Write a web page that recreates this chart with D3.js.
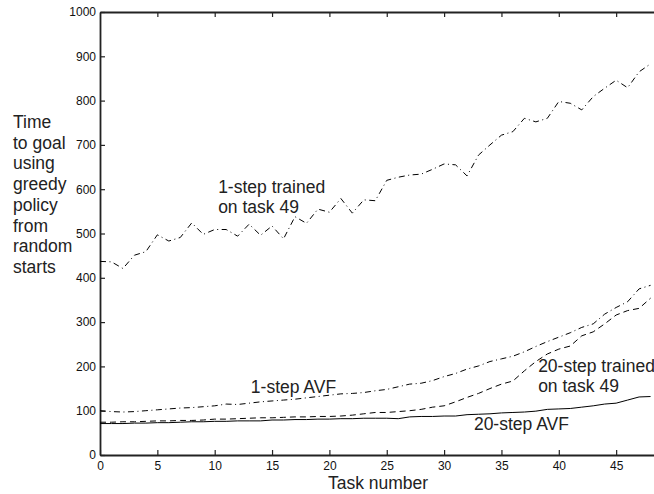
<!DOCTYPE html>
<html>
<head>
<meta charset="utf-8">
<script src="https://cdn.jsdelivr.net/npm/d3@7"></script>
<style>
  body { margin: 0; background: #fff; }
  svg { display: block; font-family: "Liberation Sans", Arial, Helvetica, sans-serif; }
  .axis path, .axis line { stroke: #222; }
  .axis text { font-size: 12px; fill: #111; }
  .lbl { font-size: 17.5px; fill: #222; }
</style>
</head>
<body>
<svg id="chart" width="654" height="494"></svg>
<script>
// task numbers 0..48
let tasks = d3.range(0, 49)

// values
let oneStepTrained = [437,436,421,451,459,497,483,491,524,498,509,509,494,521,496,517,488,538,523,555,
  548,579,546,576,574,620,627,632,634,645,657,655,630,677,700,722,730,760,752,760,
  798,794,779,809,828,846,829,865,883]
let oneStepAVF = [100,98,97,98,100,102,104,106,107,109,111,115,114,117,120,122,124,126,129,132,
  135,138,139,141,145,148,154,160,162,168,177,184,194,201,211,217,223,233,245,256,
  266,276,288,296,318,333,346,375,383]
let twentyStepTrained = [74,74,75,75,76,77,77,78,78,79,81,81,82,83,84,84,85,86,86,87,
  87,88,90,93,96,96,98,100,103,108,111,120,130,139,150,160,167,190,211,228,
  239,246,269,278,296,316,326,331,354]
let twentyStepAVF = [71,71,71,72,72,73,73,74,75,75,76,76,77,77,77,79,79,80,80,81,
  81,82,82,83,83,83,82,86,87,87,88,88,91,92,93,95,96,97,99,103,
  104,105,108,111,115,117,124,131,132]

let xTicks = [0,5,10,15,20,25,30,35,40,45]
let yTicks = [0,100,200,300,400,500,600,700,800,900,1000]
let yLabelLines = ['Time','to goal','using','greedy','policy','from','random','starts']

// annotations in data coordinates (task, value)
let notes = [
  {t: 10.3, v: 591, s: '1-step trained'},
  {t: 10.3, v: 546, s: 'on task 49'},
  {t: 13.15, v: 140, s: '1-step AVF'},
  {t: 38.2, v: 187, s: '20-step trained'},
  {t: 38.2, v: 142, s: 'on task 49'},
  {t: 32.6, v: 56, s: '20-step AVF'}
]

let svg = d3.select('#chart')

let x = d3.scaleLinear().domain([0, 48.3]).range([100, 654])
let y = d3.scaleLinear().domain([0, 1000]).range([455, 12])

// axes, MATLAB style ticks pointing inward
svg.append('g').attr('class', 'axis')
  .attr('transform', 'translate(0,' + y(0) + ')')
  .call(d3.axisBottom(x).tickValues(xTicks).tickSizeInner(-5).tickSizeOuter(0).tickPadding(6))

svg.append('g').attr('class', 'axis')
  .attr('transform', 'translate(0,' + y(1000) + ')')
  .call(d3.axisTop(x).tickValues(xTicks.slice(1)).tickFormat('').tickSizeInner(-5).tickSizeOuter(0))

svg.append('g').attr('class', 'axis')
  .attr('transform', 'translate(' + x(0) + ',0)')
  .call(d3.axisLeft(y).tickValues(yTicks).tickFormat(d3.format('d')).tickSizeInner(-5).tickSizeOuter(0).tickPadding(4))

svg.selectAll('.axis path').attr('stroke-width', 1.8)
svg.selectAll('.axis line').attr('stroke-width', 1.2)

let line = d3.line()
  .x((d, i) => x(tasks[i]))
  .y((d) => y(d))

let series = [
  {vals: oneStepTrained, dash: '6,3.5,1,3.5'},
  {vals: oneStepAVF, dash: '6,3.5,1,3.5'},
  {vals: twentyStepTrained, dash: '6,4'},
  {vals: twentyStepAVF, dash: null}
]

svg.selectAll('path.series')
  .data(series)
  .enter()
  .append('path')
  .attr('class', 'series')
  .attr('fill', 'none')
  .attr('stroke', '#000')
  .attr('stroke-width', 1)
  .attr('stroke-dasharray', (s) => s.dash)
  .attr('d', (s) => line(s.vals))

svg.selectAll('text.note')
  .data(notes)
  .enter()
  .append('text')
  .attr('class', 'lbl note')
  .attr('x', (n) => x(n.t))
  .attr('y', (n) => y(n.v))
  .text((n) => n.s)

// y label, one word group per line
svg.append('text')
  .attr('class', 'lbl')
  .selectAll('tspan')
  .data(yLabelLines)
  .enter()
  .append('tspan')
  .attr('x', 13)
  .attr('y', (d, i) => 128 + i * 20.7)
  .text((d) => d)

svg.append('text')
  .attr('class', 'lbl')
  .attr('x', 378)
  .attr('y', 489)
  .attr('text-anchor', 'middle')
  .text('Task number')
</script>
</body>
</html>
